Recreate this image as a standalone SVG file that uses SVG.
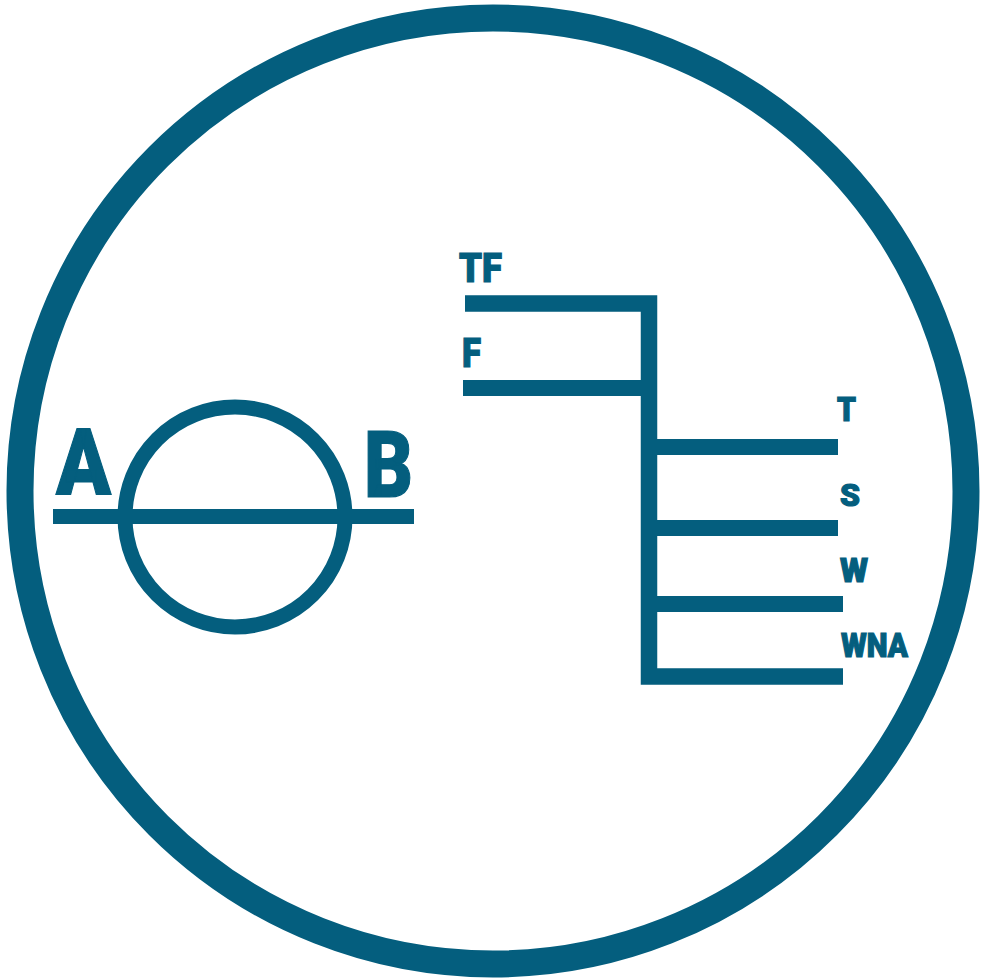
<svg xmlns="http://www.w3.org/2000/svg" width="981" height="980" viewBox="0 0 981 980">
<style>
.ln{fill:none;stroke:#045e7e;stroke-linecap:butt;stroke-linejoin:miter}
.tx{fill:#045e7e;stroke:#045e7e;stroke-width:1.2;font-family:Roboto,"Liberation Sans",sans-serif;font-weight:900}
</style>
<rect width="981" height="980" fill="#ffffff"/>
<g id="frame"><circle class="ln" cx="493" cy="491" r="473" stroke-width="27"/></g>
<g id="symbol">
<circle class="ln" cx="235" cy="517" r="110" stroke-width="15"/>
<line class="ln" x1="53" y1="516.5" x2="414" y2="516.5" stroke-width="15"/>
<text class="tx" x="56" y="494" font-size="92" textLength="55" lengthAdjust="spacingAndGlyphs">A</text>
<text class="tx" x="364" y="497" font-size="92" textLength="49" lengthAdjust="spacingAndGlyphs">B</text>
</g>
<g id="connectors">
<path class="ln" d="M465 303.5 H649 V676.5 H843" stroke-width="16.5"/>
<path class="ln" d="M463 388 H649" stroke-width="16"/>
<path class="ln" d="M649 447 H838" stroke-width="16"/>
<path class="ln" d="M649 528 H838" stroke-width="16"/>
<path class="ln" d="M649 604 H843" stroke-width="16"/>
</g>
<g id="labels">
<text class="tx" x="459" y="282" font-size="40" textLength="43" lengthAdjust="spacingAndGlyphs">TF</text>
<text class="tx" x="462" y="367" font-size="41" textLength="19" lengthAdjust="spacingAndGlyphs">F</text>
<text class="tx" x="837" y="421" font-size="33" textLength="19" lengthAdjust="spacingAndGlyphs">T</text>
<text class="tx" x="840" y="506" font-size="32" textLength="20" lengthAdjust="spacingAndGlyphs">S</text>
<text class="tx" x="840" y="582" font-size="33" textLength="28" lengthAdjust="spacingAndGlyphs">W</text>
<text class="tx" x="841" y="657" font-size="33" textLength="67" lengthAdjust="spacingAndGlyphs">WNA</text>
</g>
</svg>
